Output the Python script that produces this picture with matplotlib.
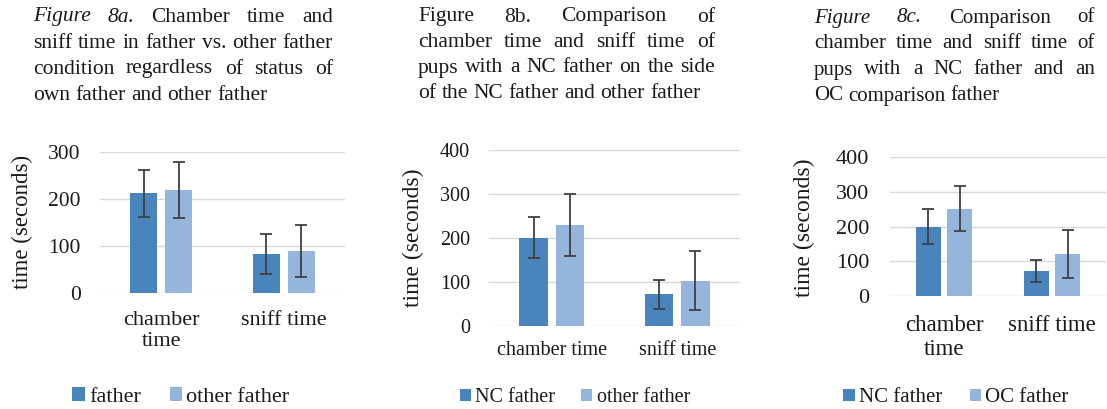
import matplotlib
matplotlib.use("Agg")
import matplotlib.pyplot as plt
import numpy as np

W, H = 1107, 409

# data
categories_a = ["chamber\ntime", "sniff time"]
categories_b = ["chamber time", "sniff time"]
categories_c = ["chamber\ntime", "sniff time"]

a_father = [212, 83]
a_father_err = [50, 43]
a_other = [219, 90]
a_other_err = [60, 55]

b_nc = [201, 72]
b_nc_err = [47, 33]
b_other = [229, 103]
b_other_err = [70, 67]

c_nc = [200, 71]
c_nc_err = [50, 32]
c_oc = [251, 120]
c_oc_err = [65, 69]

titles_a = ["Figure 8a. Chamber time and",
            "sniff time in father vs. other father",
            "condition regardless of status of",
            "own father and other father"]
titles_b = ["Figure 8b. Comparison of",
            "chamber time and sniff time of",
            "pups with a NC father on the side",
            "of the NC father and other father"]
titles_c = ["Figure 8c. Comparison of",
            "chamber time and sniff time of",
            "pups with a NC father and an",
            "OC comparison father"]

DARK = "#4a84bd"
LIGHT = "#95b5dc"
ERR = "#404040"
GRID = "#d9d9d9"

plt.rcParams['font.family'] = ['Liberation Serif', 'DejaVu Serif']

fig = plt.figure(figsize=(W / 100, H / 100), dpi=100)
fig.patch.set_facecolor("white")


def fx(px):
    return px / W


def fy(py):
    return 1 - py / H


def justified(lines, x0, x1, y0, dy, size, italic_first):
    renderer = fig.canvas.get_renderer()
    for i, line in enumerate(lines):
        words = line.split()
        texts = []
        for j, w in enumerate(words):
            style = "italic" if (italic_first and i == 0 and j < 2) else "normal"
            texts.append(fig.text(0, 0, w, fontsize=size, fontstyle=style,
                                  va="center", ha="left", color="#1a1a1a"))
        widths = [t.get_window_extent(renderer).width for t in texts]
        if i == len(lines) - 1:
            gap = size * 100 / 72 * 0.25
        else:
            gap = (x1 - x0 - sum(widths)) / (len(words) - 1)
        x = x0
        for t, w in zip(texts, widths):
            t.set_position((fx(x), fy(y0 + i * dy)))
            x += w + gap


def panel(rect, cats, s1, e1, s2, e2, ymax, labels, tick_fs, cat_fs, cat_pad,
          tick_pad, ylab_xy, ylab_fs, leg_xy, leg_fs, width, off):
    left, top, right, bottom = rect
    ax = fig.add_axes([fx(left), fy(bottom), fx(right - left), (bottom - top) / H])
    x = np.arange(len(cats))
    ekw = dict(ecolor=ERR, elinewidth=1.3, capsize=4, capthick=1.3)
    ax.bar(x - off, s1, width, color=DARK, yerr=e1, error_kw=ekw, label=labels[0], zorder=2)
    ax.bar(x + off, s2, width, color=LIGHT, yerr=e2, error_kw=ekw, label=labels[1], zorder=2)
    ax.set_xlim(-0.5, len(cats) - 0.5)
    ax.set_ylim(0, ymax)
    ax.set_yticks(np.arange(0, ymax + 1, 100))
    ax.yaxis.grid(True, color=GRID, linewidth=1, zorder=0)
    ax.set_axisbelow(True)
    for s in ax.spines.values():
        s.set_visible(False)
    ax.set_xticks(x)
    ax.set_xticklabels(cats, fontsize=cat_fs, color="#1a1a1a", linespacing=1.15)
    ax.tick_params(axis="x", length=0, pad=cat_pad)
    ax.tick_params(axis="y", length=0, pad=tick_pad, labelsize=tick_fs, labelcolor="#1a1a1a")
    ax.set_ylabel("time (seconds)", fontsize=ylab_fs, color="#1a1a1a", va="center", ha="center")
    ax.yaxis.set_label_coords(fx(ylab_xy[0]), fy(ylab_xy[1]), transform=fig.transFigure)
    ax.legend(loc="center", bbox_to_anchor=(fx(leg_xy[0]), fy(leg_xy[1])),
              bbox_transform=fig.transFigure, ncol=2,
              frameon=False, fontsize=leg_fs, handlelength=0.55, handleheight=0.55,
              handletextpad=0.2, columnspacing=1.3, borderaxespad=0,
              labelcolor="#1a1a1a")
    return ax


panel((100, 152, 345, 293), categories_a, a_father, a_father_err, a_other, a_other_err,
      300, ["father", "other father"], 15.5, 16, 13, 14, (22, 222), 16.5, (181, 397), 16,
      0.22, 0.142)
panel((489, 150, 740, 326), categories_b, b_nc, b_nc_err, b_other, b_other_err,
      400, ["NC father", "other father"], 14.5, 14.5, 11, 13.5, (413, 238), 17, (575, 398), 14.5,
      0.23, 0.145)
panel((890, 157, 1106, 296), categories_c, c_nc, c_nc_err, c_oc, c_oc_err,
      400, ["NC father", "OC father"], 16, 16.5, 14, 15, (804, 228), 17, (956, 398), 15,
      0.23, 0.145)

justified(titles_a, 33, 333, 17, 26, 15.5, True)
justified(titles_b, 418, 715, 17, 25.5, 15.5, False)
justified(titles_c, 814, 1095, 18, 26, 15, True)

fig.savefig("out.png", dpi=100)
